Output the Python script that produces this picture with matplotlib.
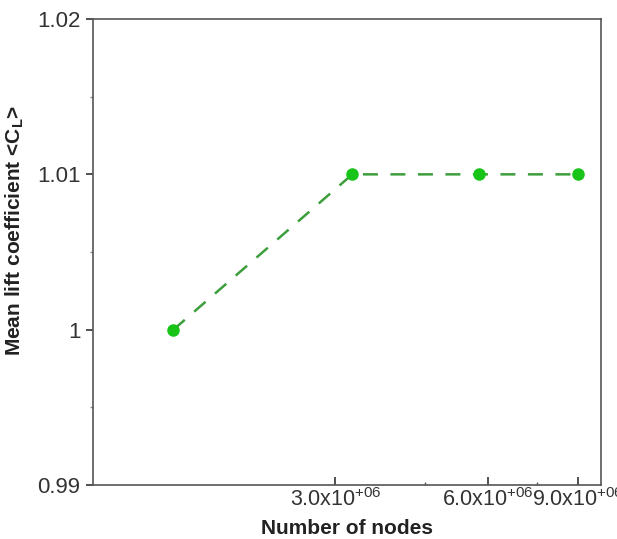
import numpy as np
import matplotlib.pyplot as plt
from matplotlib.ticker import FixedLocator, FixedFormatter, NullFormatter

plt.rcParams['font.family'] = ['Liberation Sans', 'DejaVu Sans']
plt.rcParams['mathtext.fontset'] = 'custom'
plt.rcParams['mathtext.rm'] = 'Liberation Sans'
plt.rcParams['mathtext.bf'] = 'Liberation Sans:bold'

# data
nodes = [1.44e6, 3.24e6, 5.76e6, 9.0e6]
mean_cl = [1.000, 1.010, 1.010, 1.010]

xticks = [3e6, 6e6, 9e6]
xtick_labels = [r'3.0x10$^{+06}$', r'6.0x10$^{+06}$', r'9.0x10$^{+06}$']
xminor = [4.5e6, 7.5e6]
yticks = [0.99, 1.0, 1.01, 1.02]
ytick_labels = ['0.99', '1', '1.01', '1.02']
yminor = [0.995, 1.005, 1.015]

fig = plt.figure(figsize=(6.17, 5.39), dpi=100)
ax = fig.add_axes([0.1507, 0.1002, 0.8233, 0.8645])

ax.plot(nodes, mean_cl, linestyle=(0, (6, 5)), color='#3c9e3c', linewidth=1.8,
        marker='o', markersize=8, markerfacecolor='#17c417', markeredgecolor='#17c417')

ax.set_xscale('log')
ax.set_xlim(1e6, 1e7)
ax.set_ylim(0.99, 1.02)

ax.xaxis.set_major_locator(FixedLocator(xticks))
ax.xaxis.set_major_formatter(FixedFormatter(xtick_labels))
ax.xaxis.set_minor_locator(FixedLocator(xminor))
ax.xaxis.set_minor_formatter(NullFormatter())
ax.yaxis.set_major_locator(FixedLocator(yticks))
ax.yaxis.set_major_formatter(FixedFormatter(ytick_labels))
ax.yaxis.set_minor_locator(FixedLocator(yminor))

ax.tick_params(axis='x', which='major', direction='in', length=6, width=1.2,
               labelsize=15.5, colors='#333333', labelcolor='#333333', pad=2)
ax.tick_params(axis='x', which='minor', direction='in', length=2, width=1, colors='#555555')
ax.tick_params(axis='y', which='major', direction='out', length=5, width=1.2,
               labelsize=16, colors='#333333', labelcolor='#333333', pad=4)
ax.tick_params(axis='y', which='minor', direction='out', length=2, width=1, colors='#888888')

for s in ax.spines.values():
    s.set_color('#555555')
    s.set_linewidth(1.2)

ax.set_xlabel('Number of nodes', fontsize=15, fontweight='bold', color='#222222', labelpad=6)
ax.set_ylabel(r'Mean lift coefficient <C$_\mathbf{L}$>', fontsize=15, fontweight='bold',
              color='#222222')
ax.yaxis.set_label_coords(-0.132, 0.547)

fig.savefig('out.png', dpi=100)
